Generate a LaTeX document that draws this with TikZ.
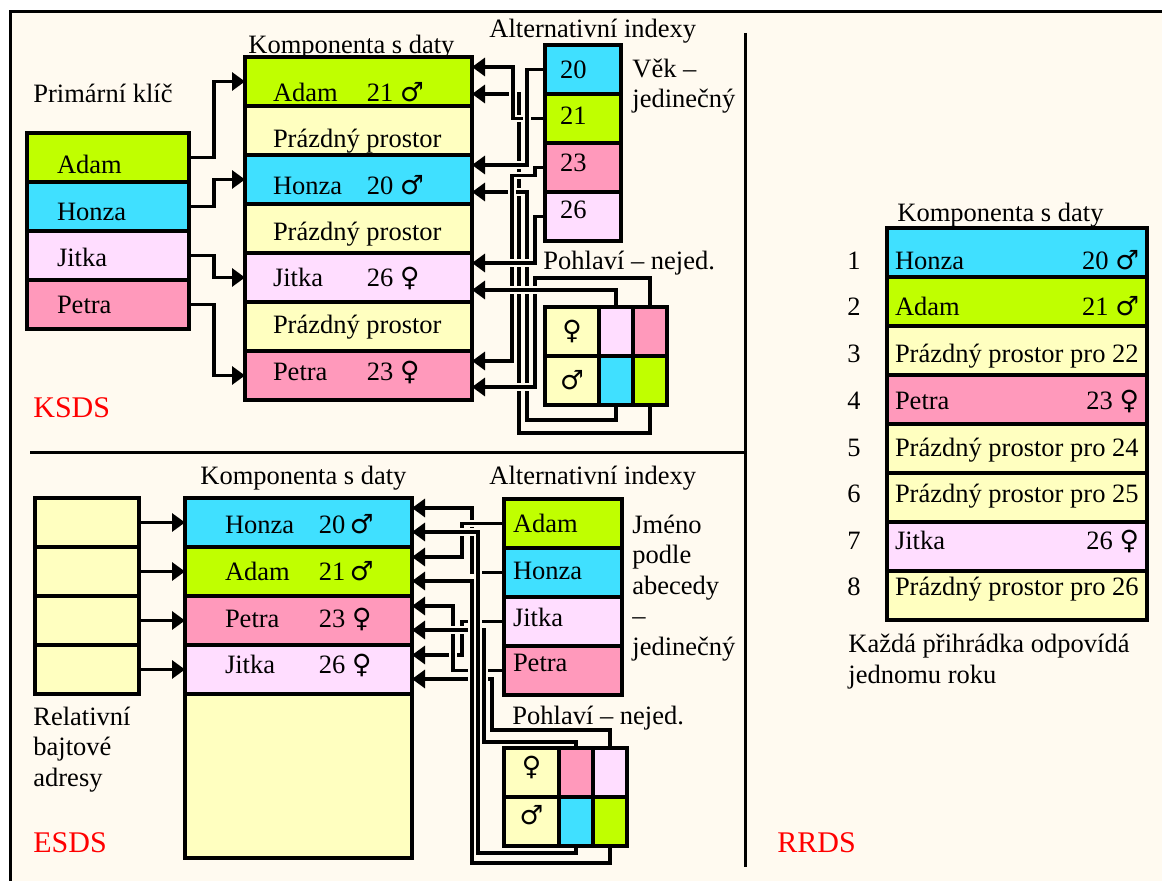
\documentclass[tikz,border=0pt]{standalone}
\usepackage{fontspec}
\setmainfont{Liberation Serif}
\newfontfamily\symfont{DejaVu Sans}
\usetikzlibrary{positioning,arrows.meta}

\definecolor{bgc}{RGB}{255,250,240}
\definecolor{cgreen}{RGB}{192,255,0}
\definecolor{ccyan}{RGB}{64,224,255}
\definecolor{clpink}{RGB}{255,221,255}
\definecolor{cpink}{RGB}{255,153,187}
\definecolor{cyell}{RGB}{255,255,192}

\newcommand{\msym}{{\symfont ♂}}
\newcommand{\fsym}{{\symfont ♀}}
\newcommand{\rec}[3]{\makebox[47pt][l]{#1}#2~#3}
\newcommand{\push}{\hspace{0pt plus 1filll}}

\tikzset{
  cell/.style={draw, line width=2pt, outer sep=0pt, inner sep=0pt,
    minimum height=24.5pt, text depth=0pt, align=flush left},
  gcell/.style={draw, line width=2pt, outer sep=0pt, inner sep=0pt,
    minimum height=24.5pt, fill=cyell},
  key/.style={cell, minimum width=81pt, text width=51pt},
  kdata/.style={cell, minimum width=113.5pt, text width=85.5pt},
  kage/.style={cell, minimum width=38pt, text width=23pt},
  rba/.style={cell, minimum width=52pt, fill=cyell},
  edata/.style={cell, minimum width=113.5pt, text width=73.5pt},
  ename/.style={cell, minimum width=59pt, text width=50pt},
  rdata/.style={cell, minimum width=130pt, text width=122pt},
  link/.style={line width=1.6pt,
    preaction={draw=bgc, line width=3.6pt, -, shorten <=1.5pt, shorten >=6pt},
    -{Triangle[length=6.5pt,width=9pt]}},
  lbl/.style={anchor=base west, inner sep=0pt, align=left},
  tag/.style={lbl, text=red, font=\fontsize{15}{18}\selectfont},
}

\begin{document}
\begin{tikzpicture}[x=0.5pt, y=-0.5pt, font=\fontsize{13.25}{15.25}\selectfont]

    % Page and frame
    \useasboundingbox (0,0) rectangle (1162,881);
    \fill[white] (0,0) rectangle (1162,881);
    \fill[bgc] (10,12) rectangle (1162,881);
    \draw[line width=1.5pt] (10,881) -- (10,12) -- (1162,12);
    \draw[line width=1.5pt] (745,33) -- (745,867);
    \draw[line width=1.5pt] (30,453) -- (745,453);

    % KSDS: primary key
    \node[key, fill=cgreen, text height=16pt, anchor=north west] (kp1) at (27,133) {Adam};
    \node[key, fill=ccyan, text height=14pt, below=0pt of kp1] (kp2) {Honza};
    \node[key, fill=clpink, text height=11pt, below=0pt of kp2] (kp3) {Jitka};
    \node[key, fill=cpink, text height=9pt, below=0pt of kp3] (kp4) {Petra};

    % KSDS: data component
    \node[kdata, fill=cgreen, text height=20pt, anchor=north west] (kd1) at (245,57) {\rec{Adam}{21}{\msym}};
    \node[kdata, fill=cyell, text height=17pt, below=0pt of kd1] (kd2) {Prázdný prostor};
    \node[kdata, fill=ccyan, text height=15pt, below=0pt of kd2] (kd3) {\rec{Honza}{20}{\msym}};
    \node[kdata, fill=cyell, text height=12.5pt, below=0pt of kd3] (kd4) {Prázdný prostor};
    \node[kdata, fill=clpink, text height=9.5pt, below=0pt of kd4] (kd5) {\rec{Jitka}{26}{\fsym}};
    \node[kdata, fill=cyell, text height=7pt, below=0pt of kd5] (kd6) {Prázdný prostor};
    \node[kdata, fill=cpink, text height=5pt, below=0pt of kd6] (kd7) {\rec{Petra}{23}{\fsym}};

    % KSDS: age index
    \node[kage, fill=ccyan, text height=9.5pt, anchor=north west] (ka1) at (545,45) {20};
    \node[kage, fill=cgreen, text height=6.5pt, below=0pt of ka1] (ka2) {21};
    \node[kage, fill=cpink, text height=4.5pt, below=0pt of ka2] (ka3) {23};
    \node[kage, fill=clpink, text height=2.5pt, below=0pt of ka3] (ka4) {26};

    % KSDS: gender index
    \node[gcell, minimum width=27pt, anchor=north west] (kgf0) at (545,307) {\fsym};
    \node[gcell, minimum width=17pt, fill=clpink, right=0pt of kgf0] (kgf1) {};
    \node[gcell, minimum width=17pt, fill=cpink, right=0pt of kgf1] (kgf2) {};
    \node[gcell, minimum width=27pt, below=0pt of kgf0] (kgm0) {\msym};
    \node[gcell, minimum width=17pt, fill=ccyan, below=0pt of kgf1] (kgm1) {};
    \node[gcell, minimum width=17pt, fill=cgreen, below=0pt of kgf2] (kgm2) {};

    % KSDS: pointers
    \draw[link] (kp1.east) -- ++(25,0) |- (kd1.west);
    \draw[link] (kp2.east) -- ++(25,0) |- (kd3.west);
    \draw[link] (kp3.east) -- ++(25,0) |- (kd5.west);
    \draw[link] (kp4.east) -- ++(25,0) |- (kd7.west);
    \draw[link] (kgm2.south) -- ++(0,28) -- ++(-131,0) |- ([yshift=-18.5pt]kd1.north east);
    \draw[link] (ka2.west) -- ++(-32,0) |- ([yshift=-5pt]kd1.north east);
    \draw[link] (ka1.west) -- ++(-18,0) |- ([yshift=-5pt]kd3.north east);
    \draw[link] (kgm1.south) -- ++(0,15) -- ++(-89,0) |- ([yshift=-18.5pt]kd3.north east);
    \draw[link] (ka3.west) -- ++(-10,0) -- ++(0,8) -- ++(-23,0) |- ([yshift=-5pt]kd7.north east);
    \draw[link] (kgf2.north) -- ++(0,-29) -- ++(-115,0) |- ([yshift=-18pt]kd7.north east);
    \draw[link] (ka4.west) -- ++(-10,0) |- ([yshift=-5pt]kd5.north east);
    \draw[link] (kgf1.north) |- ([yshift=-18.5pt]kd5.north east);

    % KSDS: labels
    \node[lbl] (kpk) at (33,103) {Primární klíč};
    \node[lbl] (kdl) at (248,54) {Komponenta s daty};
    \node[lbl] (kal) at (489,38) {Alternativní indexy};
    \node[lbl] (kvl) at (632,108) {Věk –\\jedinečný};
    \node[lbl] (kgl) at (543,270) {Pohlaví – nejed.};
    \node[tag] (ksds) at (33,418) {KSDS};

    % ESDS: relative byte addresses
    \node[rba, anchor=north west] (ea1) at (35,498) {};
    \node[rba, below=0pt of ea1] (ea2) {};
    \node[rba, below=0pt of ea2] (ea3) {};
    \node[rba, below=0pt of ea3] (ea4) {};

    % ESDS: data component
    \node[edata, fill=ccyan, text height=11pt, anchor=north west] (ed1) at (185,498) {\rec{Honza}{20}{\msym}};
    \node[edata, fill=cgreen, text height=9pt, below=0pt of ed1] (ed2) {\rec{Adam}{21}{\msym}};
    \node[edata, fill=cpink, text height=7.5pt, below=0pt of ed2] (ed3) {\rec{Petra}{23}{\fsym}};
    \node[edata, fill=clpink, text height=4.5pt, below=0pt of ed3] (ed4) {\rec{Jitka}{26}{\fsym}};
    \node[edata, fill=cyell, minimum height=82pt, below=0pt of ed4] (ed5) {};

    % ESDS: name index
    \node[ename, fill=cgreen, text height=9.5pt, anchor=north west] (ei1) at (504,499) {Adam};
    \node[ename, fill=ccyan, text height=7pt, below=0pt of ei1] (ei2) {Honza};
    \node[ename, fill=clpink, text height=5pt, below=0pt of ei2] (ei3) {Jitka};
    \node[ename, fill=cpink, text height=1.5pt, below=0pt of ei3] (ei4) {Petra};

    % ESDS: gender index
    \node[gcell, minimum width=27.5pt, text depth=7pt, anchor=north west] (egf0) at (504,748) {\fsym};
    \node[gcell, minimum width=17pt, fill=cpink, right=0pt of egf0] (egf1) {};
    \node[gcell, minimum width=17pt, fill=clpink, right=0pt of egf1] (egf2) {};
    \node[gcell, minimum width=27.5pt, text depth=7pt, below=0pt of egf0] (egm0) {\msym};
    \node[gcell, minimum width=17pt, fill=ccyan, below=0pt of egf1] (egm1) {};
    \node[gcell, minimum width=17pt, fill=cgreen, below=0pt of egf2] (egm2) {};

    % ESDS: pointers
    \draw[link] (ea1.east) -- (ed1.west);
    \draw[link] (ea2.east) -- (ed2.west);
    \draw[link] (ea3.east) -- (ed3.west);
    \draw[link] (ea4.east) -- (ed4.west);
    \draw[link] (ei2.west) -- ++(-32,0) |- ([yshift=-5pt]ed1.north east);
    \draw[link] (ei1.west) -- ++(-42,0) |- ([yshift=-5pt]ed2.north east);
    \draw[link] (ei3.west) -- ++(-42,0) |- ([yshift=-5pt]ed4.north east);
    \draw[link] (ei4.west) -- ++(-51,0) |- ([yshift=-5pt]ed3.north east);
    \draw[link] (egf2.north) -- ++(0,-18) -- ++(-118,0) |- ([yshift=-17pt]ed4.north east);
    \draw[link] (egf1.north) -- ++(0,-6) -- ++(-92,0) |- ([yshift=-17pt]ed3.north east);
    \draw[link] (egm1.south) -- ++(0,7) -- ++(-98,0) |- ([yshift=-17pt]ed1.north east);
    \draw[link] (egm2.south) -- ++(0,17) -- ++(-138,0) |- ([yshift=-17pt]ed2.north east);

    % ESDS: labels
    \node[lbl] (edl) at (200,485) {Komponenta s daty};
    \node[lbl] (eal) at (489,485) {Alternativní indexy};
    \node[lbl] (ejl) at (632,655) {Jméno\\podle\\abecedy\\–\\jedinečný};
    \node[lbl] (egl) at (512,725) {Pohlaví – nejed.};
    \node[lbl] (erl) at (33,786) {Relativní\\bajtové\\adresy};
    \node[tag] (esds) at (33,852) {ESDS};

    % RRDS: slots
    \node[rdata, fill=ccyan, text height=17.5pt, anchor=north west] (rr1) at (887,228) {Honza\push 20~\msym};
    \node[rdata, fill=cgreen, text height=14.5pt, below=0pt of rr1] (rr2) {Adam\push 21~\msym};
    \node[rdata, fill=cyell, text height=12.5pt, below=0pt of rr2] (rr3) {\mbox{Prázdný prostor pro 22}};
    \node[rdata, fill=cpink, text height=10.5pt, below=0pt of rr3] (rr4) {Petra\push 23~\fsym};
    \node[rdata, fill=cyell, text height=8.5pt, below=0pt of rr4] (rr5) {\mbox{Prázdný prostor pro 24}};
    \node[rdata, fill=cyell, text height=5.5pt, below=0pt of rr5] (rr6) {\mbox{Prázdný prostor pro 25}};
    \node[rdata, fill=clpink, text height=3pt, below=0pt of rr6] (rr7) {Jitka\push 26~\fsym};
    \node[rdata, fill=cyell, text height=0pt, below=0pt of rr7] (rr8) {\mbox{Prázdný prostor pro 26}};

    % RRDS: slot numbers
    \begin{scope}
        \clip (800,200) rectangle (859,640);
        \node[anchor=base] (rn1) at ([xshift=-16.5pt]rr1.base west) {1};
        \node[anchor=base] (rn2) at ([xshift=-16.5pt]rr2.base west) {2};
        \node[anchor=base] (rn3) at ([xshift=-16.5pt]rr3.base west) {3};
        \node[anchor=base] (rn4) at ([xshift=-16.5pt]rr4.base west) {4};
        \node[anchor=base] (rn5) at ([xshift=-16.5pt]rr5.base west) {5};
        \node[anchor=base] (rn6) at ([xshift=-16.5pt]rr6.base west) {6};
        \node[anchor=base] (rn7) at ([xshift=-16.5pt]rr7.base west) {7};
        \node[anchor=base] (rn8) at ([xshift=-16.5pt]rr8.base west) {8};
    \end{scope}

    % RRDS: labels
    \node[lbl] (rdl) at (897,222) {Komponenta s daty};
    \node[lbl] (rnl) at (848,683) {Každá přihrádka odpovídá\\jednomu roku};
    \node[tag] (rrds) at (777,852) {RRDS};

\end{tikzpicture}
\end{document}
